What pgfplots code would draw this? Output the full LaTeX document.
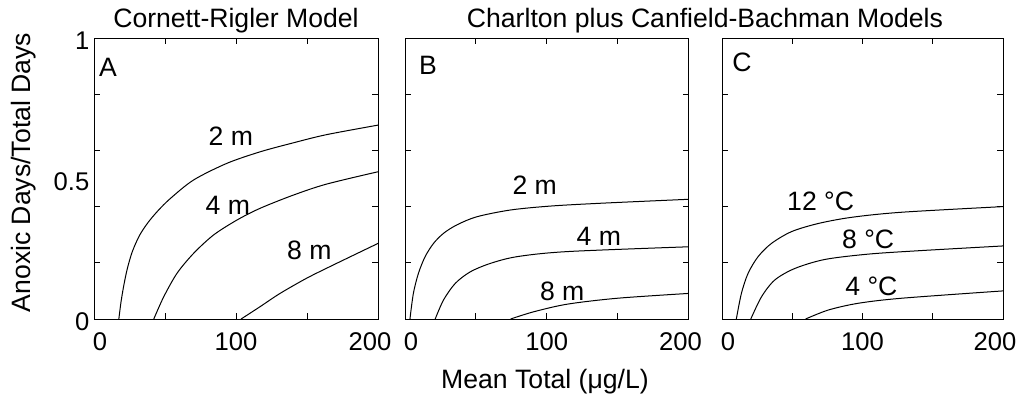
\documentclass[border=0pt]{standalone}
\usepackage{fontspec}
\setmainfont{Liberation Sans}
\usepackage{pgfplots}
\pgfplotsset{compat=1.18}
\newcommand{\fs}{\fontsize{13.3}{16}\selectfont}
\newcommand{\ft}{\fontsize{12.8}{15}\selectfont}
\tikzset{crv/.style={black, line width=0.5pt, smooth, tension=0.5, mark=none}}
\pgfplotsset{
 panel/.style={
  scale only axis, anchor=south west,
  height=140.5pt,
  xmin=0,xmax=200,ymin=0,ymax=1,
  axis line style={line width=0.5pt},
  tick style={line width=0.5pt, black},
  major tick length=3pt,
  tick align=inside,
  xtick={50,100,150}, xticklabels={},
  ytick={0.2,0.4,0.6,0.8}, yticklabels={},
  extra x ticks={0,100,200},
  extra x tick labels={\kern6pt 0,100,200\kern8pt},
  extra x tick style={major tick length=0pt},
  xticklabel style={yshift=-3.5pt},
  yticklabel style={xshift=1.2pt,yshift=-1.5pt},
  tick label style={font=\ft},
 }
}
\begin{document}
\begin{tikzpicture}[font=\fs]
\path[use as bounding box] (0,0) rectangle (510.5pt,198.5pt);
% Panel A
\begin{axis}[panel, at={(47pt,39pt)}, width=142pt,
  extra y ticks={0,0.5,1}, extra y tick labels={0,0.5,1},
  extra y tick style={major tick length=0pt}]
\addplot[crv] coordinates {(17.5,0) (19,0.06) (21,0.12) (23.5,0.18) (27,0.24) (32,0.297) (38,0.343) (45,0.385) (53.8,0.429) (70.2,0.495) (93.6,0.554) (117,0.595) (140.4,0.627) (163.7,0.656) (200,0.69)};
\addplot[crv] coordinates {(42.1,0) (49.1,0.079) (58.5,0.163) (70.2,0.234) (84.2,0.299) (100.6,0.352) (117,0.394) (140.4,0.441) (163.7,0.48) (200,0.524)};
\addplot[crv] coordinates {(103.6,0) (117,0.044) (131,0.091) (149.7,0.145) (168.4,0.192) (200,0.269)};
\node at (axis cs:9.9,0.897) {A};
\node at (axis cs:96.4,0.649) {2 m};
\node at (axis cs:94.3,0.406) {4 m};
\node at (axis cs:151.6,0.246) {8 m};
\end{axis}
% Panel B
\begin{axis}[panel, at={(202.5pt,39pt)}, width=141.75pt]
\addplot[crv] coordinates {(3.5,0) (5.9,0.091) (9.5,0.163) (14.2,0.222) (20.1,0.269) (27.2,0.305) (36.6,0.335) (50.8,0.364) (74.5,0.388) (102.8,0.402) (138.3,0.412) (200,0.426)};
\addplot[crv] coordinates {(21.3,0) (27.2,0.068) (35.5,0.127) (46.1,0.168) (60.3,0.198) (79.2,0.222) (114.7,0.24) (200,0.257)};
\addplot[crv] coordinates {(74.5,0) (91,0.026) (114.7,0.053) (150.1,0.074) (200,0.091)};
\node at (axis cs:16.2,0.904) {B};
\node at (axis cs:91.5,0.477) {2 m};
\node at (axis cs:136.8,0.293) {4 m};
\node at (axis cs:110.9,0.1) {8 m};
\end{axis}
% Panel C
\begin{axis}[panel, at={(361pt,39pt)}, width=140.5pt]
\addplot[crv] coordinates {(10.2,0) (13.8,0.091) (18.6,0.163) (25.7,0.222) (35.2,0.269) (49.5,0.311) (68.6,0.34) (92.4,0.362) (128,0.38) (200,0.4)};
\addplot[crv] coordinates {(20.5,0) (28.1,0.079) (37.6,0.139) (51.9,0.18) (73.3,0.212) (104.3,0.231) (140,0.243) (200,0.26)};
\addplot[crv] coordinates {(59.5,0) (75.7,0.032) (97,0.056) (128,0.074) (200,0.1)};
\node at (axis cs:14.2,0.915) {C};
\node at (axis cs:70.2,0.417) {12 °C};
\node at (axis cs:104,0.283) {8 °C};
\node at (axis cs:106.3,0.117) {4 °C};
\end{axis}
\node[anchor=base] at (118pt,184.85pt) {Cornett-Rigler Model};
\node[anchor=base] at (352.5pt,184.85pt) {Charlton plus Canfield-Bachman Models};
\node[anchor=base] at (272.5pt,4.35pt) {Mean Total (μg/L)};
\node[rotate=90,anchor=base] at (15.5pt,112.25pt) {Anoxic Days/Total Days};
\end{tikzpicture}
\end{document}
